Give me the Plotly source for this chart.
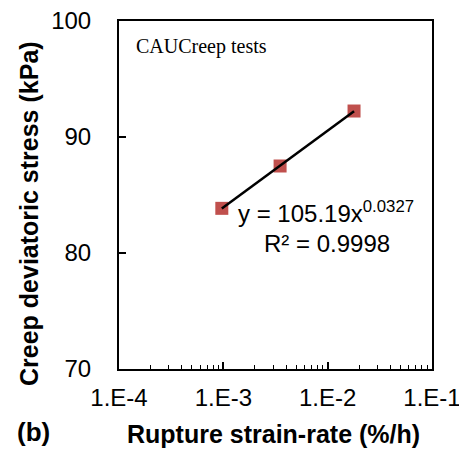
import plotly.graph_objects as go

# Data
strain_rate = [0.000967, 0.0035, 0.0179]
stress = [83.85, 87.5, 92.24]
fit_a = 105.19
fit_b = 0.0327
fit_r2 = "0.9998"
x_tickvals = [1e-4, 1e-3, 1e-2, 1e-1]
x_ticktext = ["1.E-4", "1.E-3", "1.E-2", "1.E-1"]
x_minorvals = [m * d for d in [1e-4, 1e-3, 1e-2] for m in range(2, 10)]
y_tickvals = [70, 80, 90, 100]

fit_x = [strain_rate[0], strain_rate[-1]]
fit_y = [fit_a * x ** fit_b for x in fit_x]

fig = go.Figure()
fig.add_trace(go.Scatter(
    x=strain_rate, y=stress, mode="markers",
    marker=dict(symbol="square", size=13, color="#C0504D"),
    showlegend=False,
))
fig.add_trace(go.Scatter(
    x=fit_x, y=fit_y, mode="lines",
    line=dict(color="black", width=2.5),
    showlegend=False,
))

fig.update_layout(
    width=459, height=450,
    margin=dict(l=119, r=27, t=21, b=81, autoexpand=False),
    paper_bgcolor="white", plot_bgcolor="white",
    font=dict(family="Liberation Sans, Arial", color="black"),
    xaxis=dict(
        type="log", range=[-4, -0.9999], automargin=False,
        tickmode="array", tickvals=x_tickvals, ticktext=x_ticktext,
        ticks="inside", ticklen=7, tickwidth=1.5, tickcolor="black",
        showline=True, linecolor="black", linewidth=2, mirror=True,
        showgrid=False, zeroline=False,
        tickfont=dict(size=24),
        ticklabelstandoff=6,
        ticklabeloverflow="allow",
        minor=dict(tickmode="array", tickvals=x_minorvals, ticks="inside",
                   ticklen=4, tickcolor="black", tickwidth=1, showgrid=False),
    ),
    yaxis=dict(
        range=[70, 100], tickvals=y_tickvals, automargin=False,
        ticks="inside", ticklen=7, tickwidth=1.5, tickcolor="black",
        showline=True, linecolor="black", linewidth=2, mirror=True,
        showgrid=False, zeroline=False,
        tickfont=dict(size=24),
        ticklabelstandoff=21,
    ),
)

L, R, T, B = 119, 432, 21, 369
def px(xp):
    return (xp - L) / (R - L)
def py(yp):
    return (B - yp) / (B - T)

annots = [
    dict(text="<b>Creep deviatoric stress (kPa)</b>", x=29, y=214, size=25, angle=-90),
    dict(text="<b>Rupture strain-rate (%/h)</b>", x=273, y=434, size=25, angle=0),
    dict(text="<b>(b)</b>", x=33, y=432, size=26, angle=0),
]
for a in annots:
    fig.add_annotation(
        text=a["text"], x=px(a["x"]), y=py(a["y"]),
        xref="paper", yref="paper", xanchor="center", yanchor="middle",
        showarrow=False, textangle=a["angle"],
        font=dict(size=a["size"], family="Liberation Sans, Arial", color="black"),
    )

fig.add_annotation(
    text="CAUCreep tests", x=px(134), y=py(47),
    xref="paper", yref="paper", xanchor="left", yanchor="middle",
    showarrow=False,
    font=dict(size=20, family="Liberation Serif, Times New Roman", color="black"),
)
fig.add_annotation(
    text=f"y = {fit_a}x<sup>{fit_b}</sup>", x=px(236), y=py(212),
    xref="paper", yref="paper", xanchor="left", yanchor="middle",
    showarrow=False,
    font=dict(size=24, family="Liberation Sans, Arial", color="black"),
)
fig.add_annotation(
    text=f"R² = {fit_r2}", x=px(262), y=py(243),
    xref="paper", yref="paper", xanchor="left", yanchor="middle",
    showarrow=False,
    font=dict(size=24, family="Liberation Sans, Arial", color="black"),
)

fig.write_html("out.html")
